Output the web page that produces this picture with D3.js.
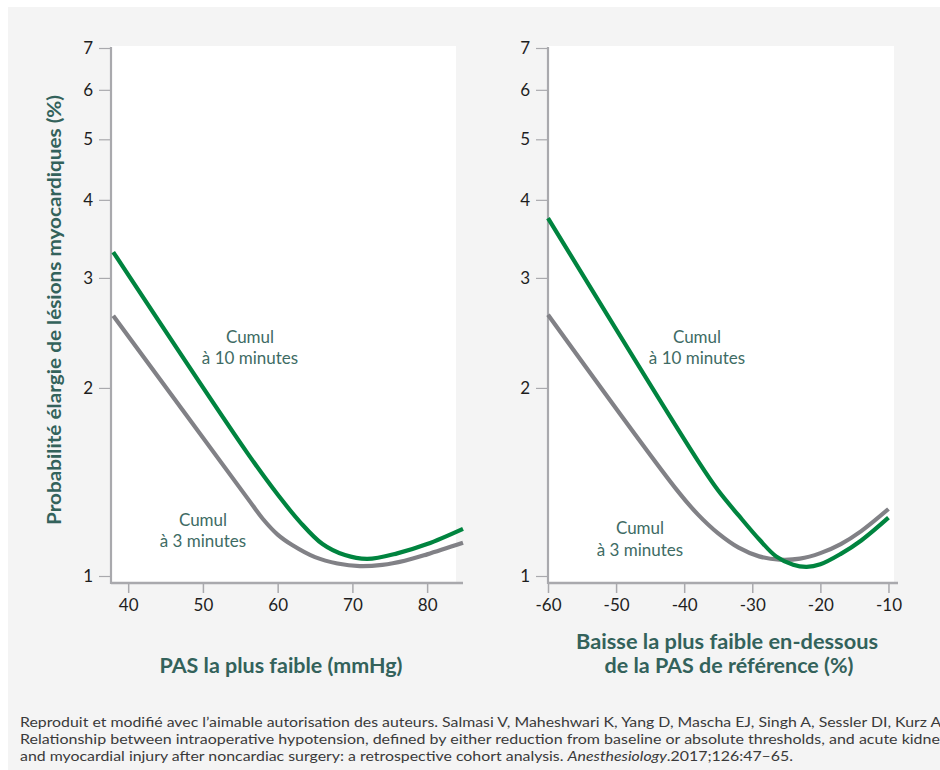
<!DOCTYPE html>
<html><head><meta charset="utf-8">
<script src="https://cdn.jsdelivr.net/npm/d3@7"></script>
<style>body{margin:0;background:#fff}svg{display:block}</style>
</head><body><svg id="c" width="940" height="770"></svg>
<script>
// ---- data ----
const yTicks = [1, 2, 3, 4, 5, 6, 7];
const leftTicks = [40, 50, 60, 70, 80];
const rightTicks = [-60, -50, -40, -30, -20, -10];

const leftX10     = [38, 56, 60, 63, 66, 69, 72, 76, 80, 84.8];
const left10min   = [3.30, 1.57, 1.35, 1.22, 1.125, 1.08, 1.065, 1.087, 1.125, 1.19];
const leftX3      = [38, 56, 58, 60, 62, 65, 68, 71, 74, 77, 80, 84.8];
const left3min    = [2.61, 1.33, 1.235, 1.165, 1.12, 1.072, 1.047, 1.037, 1.042, 1.058, 1.083, 1.13];

const rightX10    = [-60, -38, -35, -32, -29, -26.5, -24, -22, -20, -17, -14, -10];
const right10min  = [3.74, 1.53, 1.37, 1.25, 1.145, 1.075, 1.042, 1.034, 1.044, 1.085, 1.14, 1.24];
const rightX3     = [-60, -41, -38, -35, -32, -29, -26, -23, -20, -17, -14, -10];
const right3min   = [2.62, 1.37, 1.255, 1.17, 1.11, 1.075, 1.062, 1.066, 1.088, 1.125, 1.18, 1.28];

const yTitle = "Probabilité élargie de lésions myocardiques (%)";
const leftTitle = "PAS la plus faible (mmHg)";
const rightTitle = ["Baisse la plus faible en-dessous", "de la PAS de référence (%)"];
const footnote = [
  "Reproduit et modifié avec l’aimable autorisation des auteurs. Salmasi V, Maheshwari K, Yang D, Mascha EJ, Singh A, Sessler DI, Kurz A.",
  "Relationship between intraoperative hypotension, defined by either reduction from baseline or absolute thresholds, and acute kidney",
  "and myocardial injury after noncardiac surgery: a retrospective cohort analysis. "
];

// ---- drawing ----
const svg = d3.select("#c");
const FONT = "Lato, 'Open Sans', sans-serif";
const GREEN = "#00843f", GREY = "#818186", AXIS = "#a9a9ad", TEAL = "#33625b", ANNO = "#3e6b64";

svg.append("rect").attr("x", 8).attr("y", 7).attr("width", 932).attr("height", 763).attr("fill", "#f4f4f4");

const y = d3.scaleLog().domain([1, 7]).range([576, 48]);
const axisY = 583;
const fmt = d => String(d);

function panel(x0, x1, plotRight, xDomain, ticks, series) {
  const x = d3.scaleLinear().domain(xDomain).range([x0, x1]);
  const g = svg.append("g");
  g.append("rect").attr("x", x0).attr("y", 46).attr("width", plotRight - x0).attr("height", axisY - 46).attr("fill", "#fff");

  const ya = g.append("g").attr("transform", `translate(${x0 - 1},0)`)
    .call(d3.axisLeft(y).tickValues(yTicks).tickFormat(fmt).tickSize(11).tickPadding(6));
  ya.select(".domain").remove();
  ya.selectAll(".tick line").attr("stroke", AXIS).attr("stroke-width", 1.2);
  ya.selectAll(".tick text").attr("font-family", FONT).attr("font-size", 17).attr("fill", "#1e1e1e");

  const xa = g.append("g").attr("transform", `translate(0,${axisY})`)
    .call(d3.axisBottom(x).tickValues(ticks).tickFormat(fmt).tickSize(10).tickPadding(6));
  xa.select(".domain").remove();
  xa.selectAll(".tick line").attr("stroke", AXIS).attr("stroke-width", 1.5);
  xa.selectAll(".tick text").attr("font-family", FONT).attr("font-size", 17).attr("fill", "#1e1e1e");

  g.append("line").attr("x1", x0).attr("x2", x0).attr("y1", y(7) - 1).attr("y2", axisY + 1)
    .attr("stroke", AXIS).attr("stroke-width", 2.2);
  g.append("line").attr("x1", x0).attr("x2", x1).attr("y1", axisY).attr("y2", axisY)
    .attr("stroke", AXIS).attr("stroke-width", 2.5);

  const line = d3.line().x(d => x(d[0])).y(d => y(d[1])).curve(d3.curveCatmullRom.alpha(0.5));
  series.forEach(s => {
    g.append("path").datum(s.xs.map((v, i) => [v, s.ys[i]]))
      .attr("d", line).attr("fill", "none").attr("stroke", s.color).attr("stroke-width", 4.2);
  });
  return x;
}

panel(111, 463, 456, [37.7, 84.8], leftTicks, [
  {xs: leftX3, ys: left3min, color: GREY},
  {xs: leftX10, ys: left10min, color: GREEN}
]);
panel(548, 898, 894, [-60, -8.6], rightTicks, [
  {xs: rightX3, ys: right3min, color: GREY},
  {xs: rightX10, ys: right10min, color: GREEN}
]);

function label(txt, cx, cy, opts) {
  const t = svg.append("text").attr("x", cx).attr("y", cy).attr("text-anchor", "middle")
    .attr("font-family", FONT).attr("font-size", opts.size).attr("font-weight", opts.weight || 400)
    .attr("fill", opts.color).text(txt);
  if (opts.len) t.attr("textLength", opts.len).attr("lengthAdjust", "spacingAndGlyphs");
  return t;
}

label("Cumul", 250, 343, {size: 17, color: ANNO});
label("à 10 minutes", 250, 364, {size: 17, color: ANNO});
label("Cumul", 203, 526, {size: 17, color: ANNO});
label("à 3 minutes", 203, 547, {size: 17, color: ANNO});
label("Cumul", 697, 343, {size: 17, color: ANNO});
label("à 10 minutes", 697, 364, {size: 17, color: ANNO});
label("Cumul", 640, 534, {size: 17, color: ANNO});
label("à 3 minutes", 640, 556, {size: 17, color: ANNO});

label(leftTitle, 281, 673, {size: 20, weight: 700, color: TEAL, len: 243});
label(rightTitle[0], 727, 649, {size: 20, weight: 700, color: TEAL, len: 302});
label(rightTitle[1], 729, 673, {size: 20, weight: 700, color: TEAL, len: 249});
svg.append("text").attr("transform", "translate(61,310) rotate(-90)").attr("text-anchor", "middle")
  .attr("font-family", FONT).attr("font-size", 19).attr("font-weight", 700).attr("fill", TEAL)
  .attr("textLength", 430).attr("lengthAdjust", "spacingAndGlyphs").text(yTitle);

const fn = svg.append("g").attr("font-family", FONT).attr("font-size", 13).attr("fill", "#3a3a3a");
fn.append("text").attr("x", 20).attr("y", 727).attr("textLength", 925).attr("lengthAdjust", "spacingAndGlyphs").text(footnote[0]);
fn.append("text").attr("x", 20).attr("y", 744).attr("textLength", 928).attr("lengthAdjust", "spacingAndGlyphs").text(footnote[1]);
const t3 = fn.append("text").attr("x", 20).attr("y", 761);
t3.append("tspan").text(footnote[2]);
t3.append("tspan").attr("font-style", "italic").text("Anesthesiology");
t3.append("tspan").text(".2017;126:47–65.");
t3.attr("textLength", 773).attr("lengthAdjust", "spacingAndGlyphs");
</script></body></html>
